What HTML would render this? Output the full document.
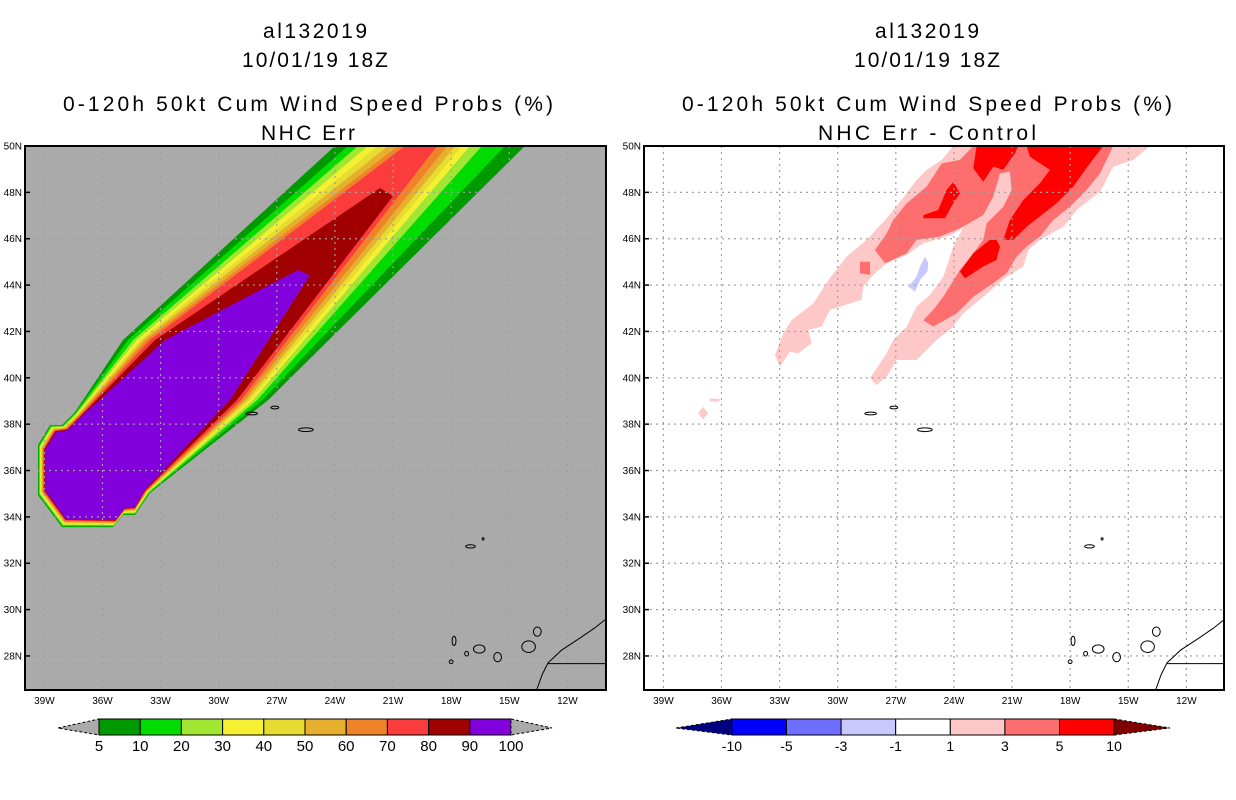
<!DOCTYPE html>
<html><head><meta charset="utf-8"><style>
html,body{margin:0;padding:0;background:#fff;}
svg{display:block;font-family:"Liberation Sans",sans-serif;}
</style></head><body>
<svg id="fig" width="1236" height="800" viewBox="0 0 1236 800" xmlns="http://www.w3.org/2000/svg">
<defs>
<clipPath id="clipL"><rect x="25" y="146" width="581" height="544"/></clipPath>
<clipPath id="clipR"><rect x="644" y="146" width="580" height="544"/></clipPath>
</defs>
<g font-size="21" text-anchor="middle">
<text x="315" y="38" textLength="104">al132019</text>
<text x="315" y="67" textLength="146">10/01/19 18Z</text>
<text x="308" y="111" textLength="490">0-120h 50kt Cum Wind Speed Probs (%)</text>
<text x="308" y="140" textLength="94">NHC Err</text>
</g>
<g font-size="21" text-anchor="middle">
<text x="927" y="38" textLength="104">al132019</text>
<text x="927" y="67" textLength="146">10/01/19 18Z</text>
<text x="927" y="111" textLength="490">0-120h 50kt Cum Wind Speed Probs (%)</text>
<text x="927" y="140" textLength="218">NHC Err - Control</text>
</g>
<g id="left"></g>
<g id="right"></g>
<g id="cbars"></g>
</svg>
<script>
// ---- data ----
var latTicks = [50,48,46,44,42,40,38,36,34,32,30,28];
var lonTicks = [39,36,33,30,27,24,21,18,15,12];
var probLevels = [5,10,20,30,40,50,60,70,80,90];
var probColors = ["#009a00","#00dc00","#a0e632","#f5f032","#e6dc32","#e6af2d","#f08228","#fa3c3c","#a00000","#8200dc"];
var probTopLeft = [[24.00,50],[23.33,50],[22.81,50],[22.29,50],[21.78,50],[21.26,50],[20.74,50],[20.38,50],[21.67,48.19],[25.91,44.65]];
var probMidLeft = [[34.94,41.63],[34.68,41.63],[34.42,41.63],[34.22,41.63],[34.06,41.63],[33.91,41.63],[33.75,41.63],[33.55,41.63],[33.29,41.63],[32.77,41.63]];
var probMidRight = [[27.45,39.04],[27.76,39.04],[28.02,39.04],[28.23,39.04],[28.38,39.04],[28.54,39.04],[28.69,39.04],[28.85,39.04],[29.06,39.04],[29.42,39.04]];
var probTopRight = [[14.19,50],[15.22,50],[16.41,50],[17.03,50],[17.44,50],[17.80,50],[18.21,50],[18.73,50],[21.0,47.84],[25.29,44.43]];
var capOuter = [[37.42,38.52],[38.09,37.96],[38.71,37.96],[39.33,37.10],[39.33,34.94],[38.09,33.56],[35.46,33.56],[34.94,34.08],[34.32,34.08],[33.55,35.03]];
var capInner = [[37.16,38.27],[37.78,37.75],[38.40,37.66],[38.97,36.89],[38.97,35.16],[37.88,33.91],[35.30,33.87],[34.84,34.38],[34.32,34.43],[33.81,35.16]];
var diffLevels = [-10,-5,-3,-1,1,3,5,10];
var diffColors = ["#000080","#0000ff","#6e6eff","#c8c8ff","#ffffff","#ffc8c8","#ff6e6e","#ff0000","#800000"];
var diffPink = [[24.03,50],[24.63,49.40],[25.41,48.97],[26.01,48.46],[26.44,47.96],[27.47,46.88],[28.51,45.95],[29.54,45.23],[30.48,44.22],[31.26,43.21],[32.38,42.49],[32.81,41.92],[33.24,40.98],[32.98,40.48],[32.47,41.13],[32.03,41.06],[31.35,41.49],[31.52,42.06],[30.83,42.21],[30.40,42.93],[28.77,43.36],[28.68,43.93],[28.16,44.44],[27.47,44.94],[26.44,45.30],[25.58,45.80],[24.12,46.16],[23.52,46.49],[24.03,45.66],[24.55,44.36],[25.24,43.57],[25.93,43.07],[26.44,42.21],[27.13,41.63],[27.47,41.06],[28.33,39.98],[27.99,39.69],[27.47,40.05],[26.96,40.77],[25.93,40.77],[24.89,41.63],[24.12,42.14],[23.52,42.78],[22.49,43.50],[21.28,44.36],[20.42,44.80],[20.16,45.51],[19.56,45.95],[18.35,46.52],[17.66,47.24],[16.46,48.03],[15.77,49.11],[14.74,49.40],[13.88,50]];
var diffPinkSmall = [[37.2,38.48],[36.95,38.75],[36.7,38.48],[36.95,38.2]];
var diffPinkDash = [[36.6,39.1],[36.1,39.1],[36.1,38.98],[36.6,38.98]];
var diffSalmon = [[23.00,50],[23.69,49.40],[24.63,49.25],[25.41,48.25],[26.44,47.53],[27.13,46.81],[27.47,46.23],[28.08,45.51],[27.56,44.94],[26.44,45.37],[25.93,45.95],[24.72,46.09],[23.60,46.49],[22.49,47.02],[21.97,47.81],[21.62,48.82],[21.11,48.89],[21.02,48.10],[21.45,47.38],[22.31,46.66],[22.49,45.95],[23.00,45.37],[23.69,44.65],[24.55,43.50],[25.07,42.93],[25.58,42.49],[25.07,42.21],[23.86,42.78],[23.00,43.50],[21.97,44.08],[21.28,44.51],[20.76,45.23],[20.25,45.66],[19.56,46.09],[18.87,46.81],[18.01,47.38],[17.15,48.10],[16.46,48.82],[16.12,49.40],[15.77,50]];
var diffSalmonSmall = [[28.85,45.01],[28.33,45.01],[28.33,44.44],[28.85,44.51]];
var diffRedA = [[22.83,50],[23.00,49.04],[22.49,48.46],[21.97,49.11],[21.45,48.97],[20.85,49.68],[20.68,50]];
var diffRedB = [[20.25,50],[20.07,49.54],[19.04,48.97],[19.56,48.39],[20.42,47.67],[21.11,46.81],[21.45,45.95],[20.94,45.95],[20.25,46.52],[18.70,47.53],[17.84,48.25],[16.98,49.25],[16.29,50]];
var diffRedC = [[24.03,48.46],[24.38,48.10],[24.81,47.24],[25.58,47.02],[25.58,46.88],[24.46,46.88],[24.03,47.53],[23.69,47.96]];
var diffRedD = [[22.14,45.95],[23.00,45.37],[23.69,44.58],[23.43,44.29],[22.49,44.80],[21.80,45.08],[21.62,45.66],[21.80,45.95]];
var diffBlue = [[25.49,45.23],[25.32,44.94],[25.37,44.58],[25.75,44.22],[26.01,43.72],[26.35,43.93],[25.93,44.36],[25.75,44.80]];
// islands: [lonW, lat, rx(deg), ry(deg)]
var islands = [[28.3,38.46,0.3,0.06],[27.1,38.72,0.2,0.06],[25.5,37.76,0.38,0.08],[17.0,32.73,0.25,0.07],[16.35,33.05,0.05,0.05],[17.85,28.65,0.1,0.2],[17.2,28.1,0.1,0.1],[16.55,28.3,0.3,0.18],[15.6,27.95,0.2,0.2],[14.0,28.4,0.35,0.25],[13.55,29.05,0.2,0.2],[18.0,27.75,0.1,0.08]];
var coast = [[13.6,26.5],[13.3,27.2],[13.0,27.7],[12.3,28.25],[11.3,28.8],[10.6,29.2],[10.0,29.6]];
var border = [[13.0,27.67],[10.0,27.67]];

var NS = "http://www.w3.org/2000/svg";
function el(tag, attrs, parent){ var e=document.createElementNS(NS,tag); for(var k in attrs) e.setAttribute(k,attrs[k]); parent.appendChild(e); return e; }
function makeProj(x0){ return {x:function(lw){return x0+(40-lw)*19.37;}, y:function(lat){return 146+(50-lat)*23.18;}}; }
function ptsStr(P, arr){ return arr.map(function(p){return P.x(p[0]).toFixed(1)+","+P.y(p[1]).toFixed(1);}).join(" "); }

function drawFrame(g, x0, w, P, clipId, bg){
  var plot = el("g",{"clip-path":"url(#"+clipId+")"},g);
  
  
  el("rect",{x:x0,y:146,width:w,height:544,fill:bg},plot);
  return plot;
}
function drawOverlay(g, plot, x0, w, P){
  var grid = el("g",{stroke:"#a0a0a0","stroke-width":1.2,"stroke-dasharray":"2 4"},plot);
  
  
  latTicks.forEach(function(l){ el("line",{x1:x0,x2:x0+w,y1:P.y(l),y2:P.y(l)},grid); });
  lonTicks.forEach(function(l){ el("line",{x1:P.x(l),x2:P.x(l),y1:146,y2:690},grid); });
  var land = el("g",{fill:"none",stroke:"#000","stroke-width":1},plot);
  
  
  islands.forEach(function(s){
    var e = el("ellipse",{cx:P.x(s[0]),cy:P.y(s[1]),rx:s[2]*19.37,ry:s[3]*23.18},land);
    
    
  });
  var c = el("polyline",{points:ptsStr(P,coast)},land);
  
  
  var b = el("polyline",{points:ptsStr(P,border)},land);
  
  
  var fr = el("rect",{x:x0,y:146,width:w,height:544,fill:"none",stroke:"#000","stroke-width":2},g);
  
  
  var ax = el("g",{"font-size":10,fill:"#000"},g);
  
  
  latTicks.forEach(function(l){
    var t = el("text",{x:x0-3,y:P.y(l)+3.5,"text-anchor":"end"},ax); t.textContent=l+"N";
    
    
    el("line",{x1:x0,x2:x0+5,y1:P.y(l),y2:P.y(l),stroke:"#000","stroke-width":1.5},ax);
  });
  lonTicks.forEach(function(l){
    var t = el("text",{x:P.x(l),y:704,"text-anchor":"middle"},ax); t.textContent=l+"W";
    
    
  });
}

// ---- left panel ----
(function(){
  var g=document.getElementById("left"), P=makeProj(25);
  var plot = drawFrame(g,25,581,P,"clipL","#aaaaaa");
  probLevels.forEach(function(lv,i){
    var t=i/(probLevels.length-1);
    var cap=capOuter.map(function(p,j){return [p[0]+(capInner[j][0]-p[0])*t, p[1]+(capInner[j][1]-p[1])*t];});
    var pts=[probTopLeft[i],probMidLeft[i]].concat(cap).concat([probMidRight[i],probTopRight[i]]);
    var pg=el("polygon",{points:ptsStr(P,pts),fill:probColors[i]},plot);
    
    
  });
  drawOverlay(g,plot,25,581,P);
})();

// ---- right panel ----
(function(){
  var g=document.getElementById("right"), P=makeProj(644);
  var plot = drawFrame(g,644,580,P,"clipR","#ffffff");
  var shapes=[["diff-ge-1",diffPink,5],["diff-ge-1-small",diffPinkSmall,5],["diff-ge-1-dash",diffPinkDash,5],["diff-ge-3",diffSalmon,6],["diff-ge-3-small",diffSalmonSmall,6],["diff-ge-5-a",diffRedA,7],["diff-ge-5-b",diffRedB,7],["diff-ge-5-c",diffRedC,7],["diff-ge-5-d",diffRedD,7],["diff-le-minus1",diffBlue,3]];
  shapes.forEach(function(s){
    var pg=el("polygon",{points:ptsStr(P,s[1]),fill:diffColors[s[2]]},plot);
    
    
  });
  drawOverlay(g,plot,644,580,P);
})();

// ---- colorbars ----
(function(){
  var g=document.getElementById("cbars");
  function bar(x0,x1,boxW,colors,labels,triL,triR,name,fsz){
    var gb=el("g",{},g);
    
    
    var y0=719,y1=735,ym=728,n=labels.length-1;
    var bx=x0+ (x1-x0-boxW*n)/2;
    var l=el("polygon",{points:x0+","+ym+" "+bx+","+y0+" "+bx+","+y1,fill:triL,stroke:"#000","stroke-width":1,"stroke-dasharray":"3 2"},gb);
    
    
    for(var i=0;i<n;i++){
      var r=el("rect",{x:bx+i*boxW,y:y0,width:boxW,height:y1-y0,fill:colors[i],stroke:"#000","stroke-width":1},gb);
      
      
    }
    var ex=bx+n*boxW;
    var rt=el("polygon",{points:ex+","+y0+" "+x1+","+ym+" "+ex+","+y1,fill:triR,stroke:"#000","stroke-width":1,"stroke-dasharray":"3 2"},gb);
    
    
    labels.forEach(function(lb,i){
      var t=el("text",{x:bx+i*boxW,y:751,"text-anchor":"middle","font-size":fsz},gb); t.textContent=lb;
      
      
    });
  }
  bar(58,552,41.2,probColors,probLevels.concat([100]),"#aaaaaa","#aaaaaa","prob-colorbar",15);
  bar(676,1170,54.6,diffColors.slice(1,8),diffLevels,diffColors[0],diffColors[8],"diff-colorbar",14);
})();
</script>
</body></html>
